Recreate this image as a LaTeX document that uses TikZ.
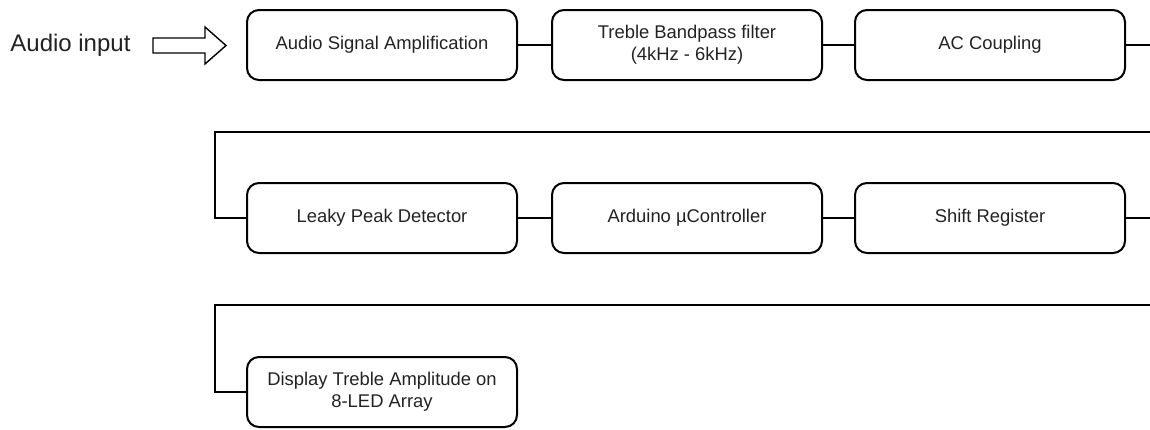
\documentclass[tikz,border=0pt]{standalone}
\usepackage{fontspec}
\setmainfont{Liberation Sans}
\definecolor{ink}{HTML}{222222}
\begin{document}
\begin{tikzpicture}[x=0.5pt,y=-0.5pt,
  block/.style={draw=black, line width=1pt, rounded corners=6pt,
    minimum width=135pt, minimum height=35pt, align=center, text=ink,
    font=\fontsize{9.2}{11}\selectfont, inner sep=2pt},
  wire/.style={line width=1pt}]
\useasboundingbox (0,0) rectangle (1150,429);

% first row
\node[block] (amp)  at (382,45)  {Audio Signal Amplification};
\node[block] (bp)   at (687,45)  {Treble Bandpass filter\\(4kHz - 6kHz)};
\node[block] (ac)   at (990,45)  {AC Coupling};
% second row
\node[block] (peak) at (382,218) {Leaky Peak Detector};
\node[block] (ard)  at (687,218) {Arduino µController};
\node[block] (sr)   at (990,218) {Shift Register};
% third row
\node[block] (disp) at (382,392) {Display Treble Amplitude on\\8-LED Array};

% input label and hollow arrow
\node[font=\fontsize{12}{14}\selectfont, text=ink, anchor=west, inner sep=0pt] (in) at (10,45) {Audio input};
\draw[line width=0.7pt, line join=miter]
  (153,38) -- (205,38) -- (205,27) -- (226,45.5) -- (205,64) -- (205,53) -- (153,53) -- cycle;

% row links
\draw[wire] (amp) -- (bp);
\draw[wire] (bp) -- (ac);
\draw[wire] (peak) -- (ard);
\draw[wire] (ard) -- (sr);

% wrap-around links
\coordinate (e1) at (1150,45);
\coordinate (r1) at (1150,132);
\coordinate (l1) at (215,132);
\coordinate (e2) at (1150,218);
\coordinate (r2) at (1150,305);
\coordinate (l2) at (215,305);
\draw[wire] (ac.east) -- (e1);
\draw[wire] (r1) -- (l1) |- (peak.west);
\draw[wire] (sr.east) -- (e2);
\draw[wire] (r2) -- (l2) |- (disp.west);
\end{tikzpicture}
\end{document}
